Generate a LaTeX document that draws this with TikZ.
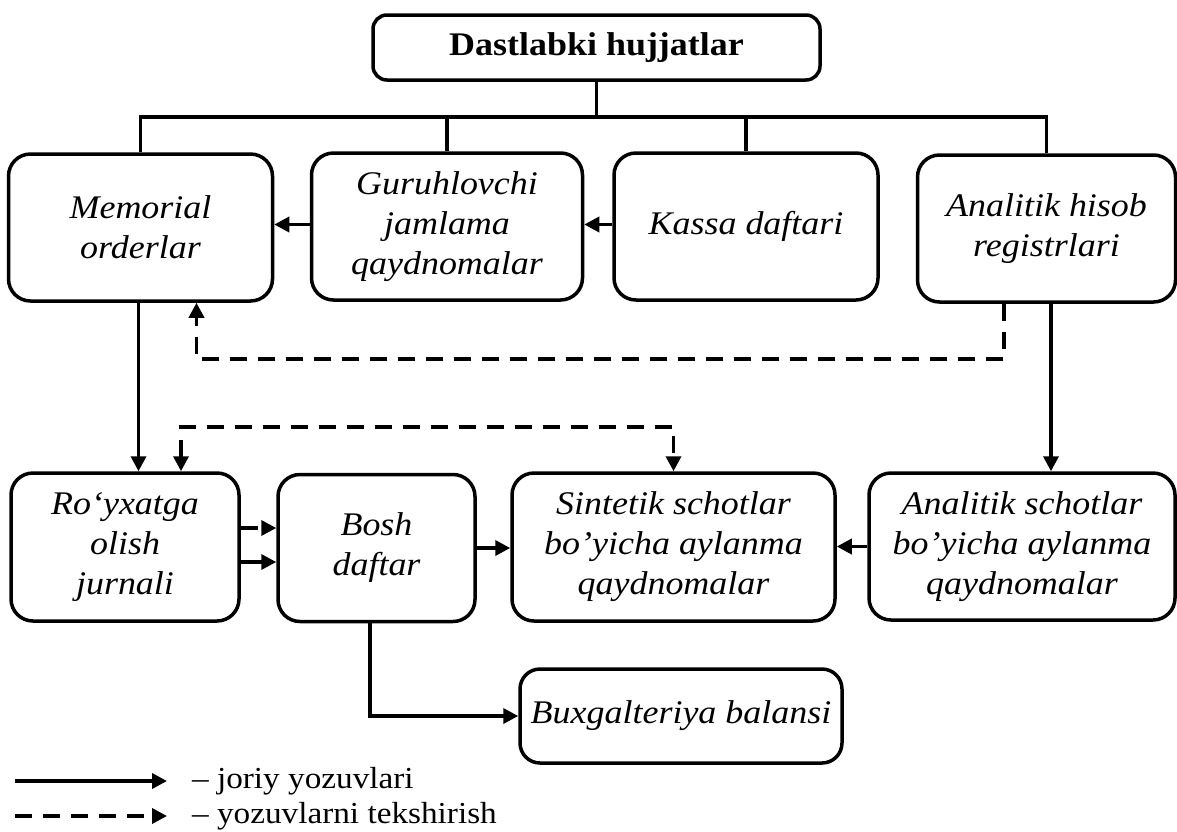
\documentclass[tikz,border=0pt]{standalone}
\usepackage{fontspec}
\setmainfont{Liberation Serif}[FakeStretch=1.09]
\usetikzlibrary{arrows.meta, positioning, calc}

\begin{document}
\begin{tikzpicture}[x=1pt, y=-1pt,
  docbox/.style={draw, line width=3.5pt, rounded corners=22pt, align=center, inner sep=4pt,
    font=\fontsize{33}{40}\selectfont\itshape},
  flow/.style={line width=3.5pt, -{Triangle[length=15pt,width=15pt]}},
  check/.style={flow, dash pattern=on 17pt off 11pt},
  bus/.style={line width=3.5pt}]
  \useasboundingbox (0,0) rectangle (1177,831);

  \node[docbox, rounded corners=14pt, font=\fontsize{33}{38}\selectfont\bfseries,
    minimum width=447pt, minimum height=65pt] (src) at (596.5,47.5) {Dastlabki hujjatlar};

  \node[docbox, minimum width=264pt, minimum height=147pt] (mem) at (140.5,227.5) {Memorial\\orderlar};
  \node[docbox, minimum width=271pt, minimum height=147pt] (gur) at (447,226.5) {Guruhlovchi\\jamlama\\qaydnomalar};
  \node[docbox, minimum width=264pt, minimum height=147pt] (kas) at (746,226.5) {Kassa daftari};
  \node[docbox, minimum width=258pt, minimum height=147pt] (anh) at (1046.5,228.5) {Analitik hisob\\registrlari};

  \node[docbox, minimum width=228pt, minimum height=148pt] (roy) at (125,547) {Ro‘yxatga\\olish\\jurnali};
  \node[docbox, minimum width=197pt, minimum height=147pt] (bosh) at (376.5,548) {Bosh\\daftar};
  \node[docbox, minimum width=323pt, minimum height=148pt] (sin) at (673.5,547) {Sintetik schotlar\\bo’yicha aylanma\\qaydnomalar};
  \node[docbox, minimum width=306pt, minimum height=147pt] (ans) at (1022,546.5) {Analitik schotlar\\bo’yicha aylanma\\qaydnomalar};

  \node[docbox, rounded corners=20pt, minimum width=322pt, minimum height=94pt] (bux) at (681,716) {Buxgalteriya balansi};

  \coordinate (bus) at (0,117);
  \coordinate (chk1) at (0,359);
  \coordinate (chk2) at (0,427);

  \draw[bus] (src.south) -- (src.south |- bus);
  \draw[bus] (mem.north) -- (mem.north |- bus) -- (anh.north |- bus) -- (anh.north);
  \draw[bus] (gur.north) -- (gur.north |- bus);
  \draw[bus] (kas.north) -- (kas.north |- bus);

  \draw[flow] ([yshift=2pt]gur.west) -- ([yshift=2pt]mem.east |- gur.west);
  \draw[flow] ([yshift=2pt]kas.west) -- ([yshift=2pt]gur.east |- kas.west);
  \draw[flow] ([xshift=-2pt]mem.south) -- ([xshift=-2pt]mem.south |- roy.north);
  \draw[flow] ([xshift=4.5pt]anh.south) -- ([xshift=4.5pt]anh.south |- ans.north);

  \draw[check] ([xshift=-42.5pt]anh.south) |- ([xshift=56pt]mem.south |- chk1) -- ([xshift=56pt]mem.south);
  \draw[check, {Triangle[length=15pt,width=15pt]}-{Triangle[length=15pt,width=15pt]}]
    ([xshift=56pt]roy.north) -- ([xshift=56pt]roy.north |- chk2) -| (sin.north);

  \draw[check] ([yshift=19pt]roy.east) -- ([yshift=19pt]roy.east -| bosh.west);
  \draw[flow] ([yshift=-15pt]roy.east) -- ([yshift=-15pt]roy.east -| bosh.west);
  \draw[flow] (bosh.east) -- (sin.west |- bosh.east);
  \draw[flow] (ans.west) -- (sin.east |- ans.west);
  \draw[flow] ([xshift=-6.5pt]bosh.south) |- (bux.west);

  \coordinate (leg1) at (15,781);
  \coordinate (leg2) at (15,816);
  \draw[flow] (leg1) -- ++(152,0) node[right=20pt, font=\fontsize{30.5}{36}\selectfont] (legtxt1) {– joriy yozuvlari};
  \draw[check] (leg2) -- ++(152,0) node[right=20pt, font=\fontsize{30.5}{36}\selectfont] (legtxt2) {– yozuvlarni tekshirish};
\end{tikzpicture}
\end{document}
